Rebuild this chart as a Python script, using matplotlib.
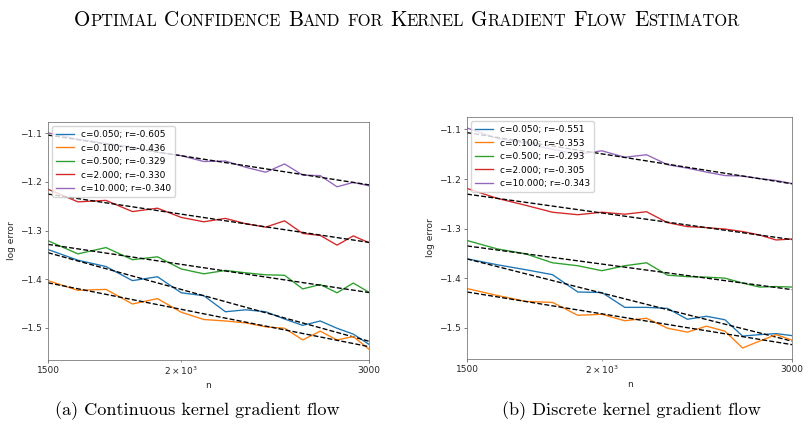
import numpy as np
import matplotlib
matplotlib.use("Agg")
import matplotlib.pyplot as plt
from matplotlib.transforms import IdentityTransform

# ---------------- data ----------------
n_values = [1500, 1600, 1700, 1800, 1900, 2000, 2100, 2200,
            2300, 2400, 2500, 2600, 2700, 2800, 2900, 3000]
c_values = [0.05, 0.1, 0.5, 2.0, 10.0]

# (a) continuous kernel gradient flow
cont_r = [-0.605, -0.436, -0.329, -0.330, -0.340]
cont_c005 = [-1.339, -1.361, -1.374, -1.403, -1.395, -1.428, -1.434, -1.467,
             -1.463, -1.467, -1.482, -1.495, -1.486, -1.501, -1.513, -1.534]
cont_c01 = [-1.403, -1.423, -1.421, -1.451, -1.440, -1.468, -1.483, -1.486,
            -1.490, -1.498, -1.501, -1.525, -1.507, -1.525, -1.518, -1.544]
cont_c05 = [-1.321, -1.348, -1.335, -1.360, -1.354, -1.379, -1.389, -1.382,
            -1.387, -1.391, -1.392, -1.420, -1.411, -1.428, -1.408, -1.427]
cont_c2 = [-1.215, -1.241, -1.238, -1.261, -1.254, -1.273, -1.282, -1.275,
           -1.286, -1.293, -1.280, -1.306, -1.310, -1.330, -1.311, -1.325]
cont_c10 = [-1.099, -1.112, -1.121, -1.128, -1.139, -1.146, -1.158, -1.157,
            -1.170, -1.180, -1.163, -1.186, -1.187, -1.210, -1.201, -1.208]

# (b) discrete kernel gradient flow
disc_r = [-0.551, -0.353, -0.293, -0.305, -0.343]
disc_c005 = [-1.361, -1.373, -1.383, -1.393, -1.428, -1.429, -1.459, -1.459,
             -1.461, -1.483, -1.477, -1.484, -1.517, -1.514, -1.512, -1.516]
disc_c01 = [-1.421, -1.435, -1.447, -1.449, -1.475, -1.473, -1.486, -1.481,
            -1.501, -1.509, -1.497, -1.507, -1.541, -1.527, -1.514, -1.525]
disc_c05 = [-1.324, -1.341, -1.351, -1.369, -1.375, -1.385, -1.375, -1.369,
            -1.394, -1.397, -1.398, -1.400, -1.410, -1.418, -1.417, -1.418]
disc_c2 = [-1.219, -1.239, -1.253, -1.267, -1.272, -1.267, -1.271, -1.266,
           -1.288, -1.296, -1.298, -1.301, -1.306, -1.313, -1.323, -1.321]
disc_c10 = [-1.097, -1.118, -1.128, -1.140, -1.150, -1.143, -1.156, -1.151,
            -1.171, -1.178, -1.186, -1.193, -1.194, -1.199, -1.203, -1.209]

title_text = "Optimal Confidence Band for Kernel Gradient Flow Estimator"
caption_a = "(a) Continuous kernel gradient flow"
caption_b = "(b) Discrete kernel gradient flow"

colors = ["#1f77b4", "#ff7f0e", "#2ca02c", "#d62728", "#9467bd"]

# ---------------- figure ----------------
W, H = 809, 429
fig = plt.figure(figsize=(W / 100, H / 100), dpi=100)
fig.patch.set_facecolor("white")

S = 0.645  # scale of the embedded panels
fs = 10 * S
lw = 1.5 * S

plt.rcParams.update({
    "xtick.major.size": 3.5 * S, "ytick.major.size": 3.5 * S,
    "xtick.minor.size": 2 * S, "ytick.minor.size": 2 * S,
    "xtick.major.width": 0.8 * S, "ytick.major.width": 0.8 * S,
    "xtick.minor.width": 0.6 * S, "ytick.minor.width": 0.6 * S,
    "xtick.major.pad": 3.5 * S, "ytick.major.pad": 3.5 * S,
    "xtick.minor.pad": 3.4 * S,
    "axes.linewidth": 0.8 * S,
    "axes.labelpad": 4 * S,
    "axes.edgecolor": "0.4",
    "xtick.color": "0.3", "ytick.color": "0.3",
    "xtick.labelcolor": "0.15", "ytick.labelcolor": "0.15",
})


def px_axes(x0, y0, x1, y1):
    return fig.add_axes([x0 / W, 1 - y1 / H, (x1 - x0) / W, (y1 - y0) / H])


def draw_panel(ax, series, rs):
    logn = np.log10(np.array(n_values, dtype=float))
    for c, ys, r, col in zip(c_values, series, rs, colors):
        ys = np.array(ys)
        a = ys.mean() - r * logn.mean()
        ax.plot(n_values, ys, color=col, lw=lw,
                label=f"c={c:.3f}; r={r:.3f}")
        ax.plot(n_values, a + r * logn, color="black", ls="--", lw=lw)
    ax.set_xscale("log")
    ax.set_xlim(n_values[0], n_values[-1])
    ax.set_xticks([1500, 3000])
    ax.set_xticklabels(["1500", "3000"])
    ax.tick_params(labelsize=fs, which="both")
    ax.set_xlabel("n", fontsize=fs, color="0.15")
    ax.set_ylabel("log error", fontsize=fs, color="0.15")
    ax.set_yticks([-1.5, -1.4, -1.3, -1.2, -1.1])
    ax.legend(loc="upper left", fontsize=fs)


ax1 = px_axes(48, 122, 369, 360)
draw_panel(ax1, [cont_c005, cont_c01, cont_c05, cont_c2, cont_c10], cont_r)
ax2 = px_axes(467, 117, 792, 359)
draw_panel(ax2, [disc_c005, disc_c01, disc_c05, disc_c2, disc_c10], disc_r)

# captions
cap_font = dict(family="cmr10", fontsize=13.1, ha="center", va="center")
fig.text(197 / W, 1 - 411 / H, caption_a, **cap_font)
fig.text(631 / W, 1 - 411 / H, caption_b, **cap_font)

# small-caps title
renderer = fig.canvas.get_renderer()
big, small = 15.2, 11.9
pieces = []
for word in title_text.split():
    if word[0].isupper():
        pieces.append((word[0], big))
        rest = word[1:]
    else:
        rest = word
    if rest:
        pieces.append((rest.upper(), small))
    pieces.append((None, None))
pieces = pieces[:-1]
gap = 0.33 * big * 100 / 72
texts = []
total = 0.0
for s, size in pieces:
    if s is None:
        texts.append(None)
        total += gap
        continue
    t = fig.text(0, 0, s, family="cmr10", fontsize=size,
                 transform=IdentityTransform(), ha="left", va="baseline")
    w = t.get_window_extent(renderer).width
    texts.append((t, w))
    total += w
x = 407 - total / 2
base = H - 26
for item in texts:
    if item is None:
        x += gap
        continue
    t, w = item
    t.set_position((x, base))
    x += w

fig.savefig("out.png", dpi=100, facecolor="white")
